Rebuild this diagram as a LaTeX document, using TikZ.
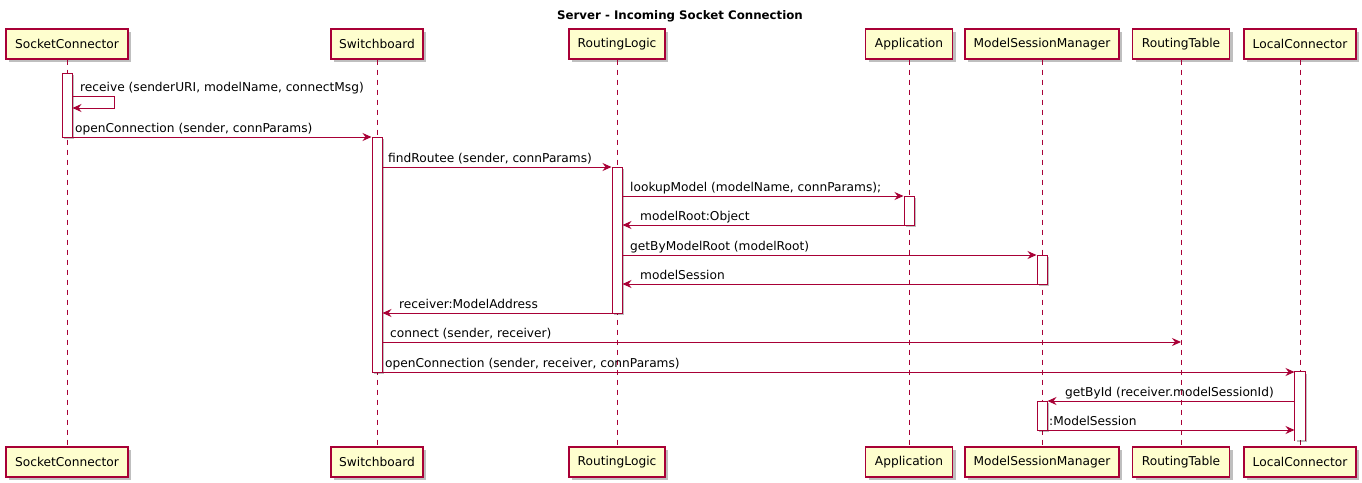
\documentclass[tikz,border=0pt]{standalone}
\usepackage{fontspec}
\setmainfont{DejaVu Sans}
\usetikzlibrary{arrows.meta,shadows}
\definecolor{pr}{HTML}{A80036}
\definecolor{py}{HTML}{FEFECE}
\tikzset{
  part/.style={draw=pr, fill=py, line width=1.4pt, minimum height=30pt, inner xsep=6pt,
    font=\fontsize{12.2}{14}\selectfont, text=black,
    drop shadow={shadow xshift=3pt, shadow yshift=-3pt, opacity=0.25, fill=black}},
  actbar/.style={draw=pr, fill=white, line width=1pt, minimum width=10pt, inner sep=0pt,
    drop shadow={shadow xshift=2pt, shadow yshift=-2pt, opacity=0.25, fill=black}},
  life/.style={draw=pr, line width=1pt, dash pattern=on 5pt off 5pt},
  msg/.style={draw=pr, line width=1pt, -{Stealth[length=9pt, width=8pt, inset=3pt]}},
  lbl/.style={anchor=base west, inner sep=0pt, font=\fontsize{12.2}{14}\selectfont, text=black},
}
\begin{document}
\begin{tikzpicture}[x=1pt, y=-1pt]
\useasboundingbox (0,0) rectangle (1362,482);
\node[font=\bfseries\fontsize{11.8}{14}\selectfont, anchor=base] (title) at (680,19) {Server - Incoming Socket Connection};
% participants top
\node[part, minimum width=122pt] (sc) at (67,44) {SocketConnector};
\node[part, minimum width=92pt] (sb) at (377,44) {Switchboard};
\node[part, minimum width=96pt] (rl) at (617,44) {RoutingLogic};
\node[part, minimum width=87pt] (ap) at (909,44) {Application};
\node[part, minimum width=154pt] (ms) at (1042,44) {ModelSessionManager};
\node[part, minimum width=97pt] (rt) at (1181,44) {RoutingTable};
\node[part, minimum width=112pt] (lc) at (1300,44) {LocalConnector};
% participants bottom
\node[part, minimum width=122pt] (sc2) at (67,462) {SocketConnector};
\node[part, minimum width=92pt] (sb2) at (377,462) {Switchboard};
\node[part, minimum width=96pt] (rl2) at (617,462) {RoutingLogic};
\node[part, minimum width=87pt] (ap2) at (909,462) {Application};
\node[part, minimum width=154pt] (ms2) at (1042,462) {ModelSessionManager};
\node[part, minimum width=97pt] (rt2) at (1181,462) {RoutingTable};
\node[part, minimum width=112pt] (lc2) at (1300,462) {LocalConnector};
% lifelines
\foreach \a in {sc,sb,rl,ap,ms,rt,lc}{\draw[life] (\a.south) -- (\a2.north);}
% activation bars
\node[actbar, minimum height=64pt] (scA) at (67,105) {};
\node[actbar, minimum height=235pt] (sbA) at (377,254.5) {};
\node[actbar, minimum height=146pt] (rlA) at (617,240) {};
\node[actbar, minimum height=29pt] (apA) at (909,210.5) {};
\node[actbar, minimum height=29pt] (msA) at (1042,269.5) {};
\node[actbar, minimum height=29pt] (msB) at (1042,415.5) {};
\node[actbar, draw=none, minimum height=68pt] (lcA) at (1300,406) {};
\draw[pr, line width=1pt] (lcA.south west) -- (lcA.north west) -- (lcA.north east) -- (lcA.south east);
% messages
\draw[msg] (scA.east |- 0,96) -- ++(42,0) -- ++(0,12) -- (scA.east |- 0,108);
\node[lbl] (t1) at (80,91) {receive (senderURI, modelName, connectMsg)};
\draw[msg] (scA.east |- 0,137) -- (sbA.west |- 0,137);
\node[lbl] (t2) at (75,132) {openConnection (sender, connParams)};
\draw[msg] (sbA.east |- 0,167) -- (rlA.west |- 0,167);
\node[lbl] (t3) at (388,162) {findRoutee (sender, connParams)};
\draw[msg] (rlA.east |- 0,196) -- (apA.west |- 0,196);
\node[lbl] (t4) at (630,191) {lookupModel (modelName, connParams);};
\draw[msg] (apA.west |- 0,225) -- (rlA.east |- 0,225);
\node[lbl] (t5) at (640,220) {modelRoot:Object};
\draw[msg] (rlA.east |- 0,255) -- (msA.west |- 0,255);
\node[lbl] (t6) at (630,250) {getByModelRoot (modelRoot)};
\draw[msg] (msA.west |- 0,284) -- (rlA.east |- 0,284);
\node[lbl] (t7) at (640,279) {modelSession};
\draw[msg] (rlA.west |- 0,313) -- (sbA.east |- 0,313);
\node[lbl] (t8) at (399,308) {receiver:ModelAddress};
\draw[msg] (sbA.east |- 0,342) -- (rt |- 0,342);
\node[lbl] (t9) at (390,337) {connect (sender, receiver)};
\draw[msg] (sbA.east |- 0,372) -- (lcA.west |- 0,372);
\node[lbl] (t10) at (385,367) {openConnection (sender, receiver, connParams)};
\draw[msg] (lcA.west |- 0,401) -- (msB.east |- 0,401);
\node[lbl] (t11) at (1065,396) {getById (receiver.modelSessionId)};
\draw[msg] (msB.east |- 0,430) -- (lcA.west |- 0,430);
\node[lbl] (t12) at (1049,425) {:ModelSession};
\end{tikzpicture}
\end{document}
